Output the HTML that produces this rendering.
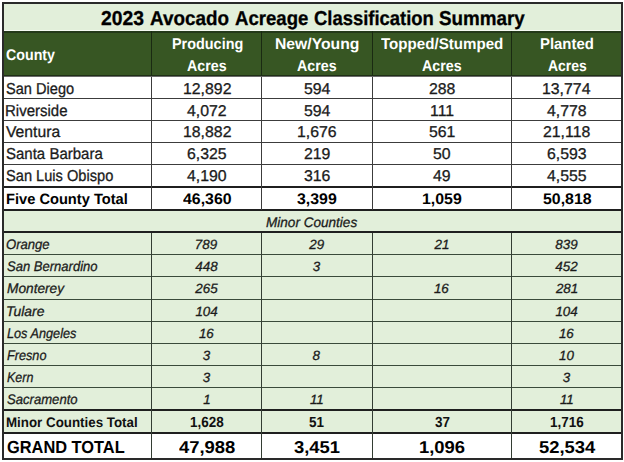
<!DOCTYPE html>
<html><head><meta charset="utf-8"><style>
html,body{margin:0;padding:0;background:#fff;width:624px;height:462px;overflow:hidden}
body{position:relative;font-family:"Liberation Sans",sans-serif}
.r{position:absolute}
.t{position:absolute;line-height:0;white-space:nowrap;transform-origin:0 0;text-rendering:geometricPrecision}
.n{-webkit-text-stroke:0.3px currentColor}
.i{-webkit-text-stroke:0.3px currentColor}
.b{-webkit-text-stroke:0.3px currentColor}
</style></head><body>
<div class="r" style="left:4px;top:4px;width:617px;height:26px;background:#e2efda"></div>
<div class="r" style="left:2px;top:30px;width:620px;height:1px;background:#f6faf3"></div>
<div class="r" style="left:4px;top:31px;width:617px;height:45px;background:#375623"></div>
<div class="r" style="left:4px;top:31px;width:617px;height:2px;background:#24391a"></div>
<div class="r" style="left:4px;top:75px;width:617px;height:1px;background:#1e2f15"></div>
<div class="r" style="left:4px;top:76px;width:617px;height:1px;background:#6a6a6a"></div>
<div class="r" style="left:4px;top:77px;width:617px;height:109px;background:#fff"></div>
<div class="r" style="left:4px;top:188px;width:617px;height:21px;background:#fff"></div>
<div class="r" style="left:4px;top:211px;width:617px;height:198px;background:#e2efda"></div>
<div class="r" style="left:4px;top:411px;width:617px;height:21px;background:#e2efda"></div>
<div class="r" style="left:4px;top:434px;width:617px;height:24px;background:#fff"></div>
<div class="r" style="left:4px;top:98px;width:617px;height:1px;background:#3c3c3c"></div>
<div class="r" style="left:4px;top:120px;width:617px;height:1px;background:#3c3c3c"></div>
<div class="r" style="left:4px;top:142px;width:617px;height:1px;background:#3c3c3c"></div>
<div class="r" style="left:4px;top:164px;width:617px;height:1px;background:#3c3c3c"></div>
<div class="r" style="left:4px;top:186px;width:617px;height:2px;background:#1f1f1f"></div>
<div class="r" style="left:4px;top:209px;width:617px;height:2px;background:#1f1f1f"></div>
<div class="r" style="left:4px;top:231px;width:617px;height:2px;background:#1f1f1f"></div>
<div class="r" style="left:4px;top:409px;width:617px;height:2px;background:#1f1f1f"></div>
<div class="r" style="left:4px;top:432px;width:617px;height:2px;background:#1f1f1f"></div>
<div class="r" style="left:4px;top:254px;width:617px;height:1px;background:#3a4a3a"></div>
<div class="r" style="left:4px;top:276px;width:617px;height:1px;background:#3a4a3a"></div>
<div class="r" style="left:4px;top:299px;width:617px;height:1px;background:#3a4a3a"></div>
<div class="r" style="left:4px;top:321px;width:617px;height:1px;background:#3a4a3a"></div>
<div class="r" style="left:4px;top:343px;width:617px;height:1px;background:#3a4a3a"></div>
<div class="r" style="left:4px;top:365px;width:617px;height:1px;background:#3a4a3a"></div>
<div class="r" style="left:4px;top:387px;width:617px;height:1px;background:#3a4a3a"></div>
<div class="r" style="left:151px;top:31px;width:1px;height:45px;background:#1a2a12"></div>
<div class="r" style="left:151px;top:77px;width:1px;height:133px;background:#3c3c3c"></div>
<div class="r" style="left:151px;top:233px;width:1px;height:225px;background:#333d33"></div>
<div class="r" style="left:261px;top:31px;width:1px;height:45px;background:#1a2a12"></div>
<div class="r" style="left:261px;top:77px;width:1px;height:133px;background:#3c3c3c"></div>
<div class="r" style="left:261px;top:233px;width:1px;height:225px;background:#333d33"></div>
<div class="r" style="left:372px;top:31px;width:1px;height:45px;background:#1a2a12"></div>
<div class="r" style="left:372px;top:77px;width:1px;height:133px;background:#3c3c3c"></div>
<div class="r" style="left:372px;top:233px;width:1px;height:225px;background:#333d33"></div>
<div class="r" style="left:511px;top:31px;width:1px;height:45px;background:#1a2a12"></div>
<div class="r" style="left:511px;top:77px;width:1px;height:133px;background:#3c3c3c"></div>
<div class="r" style="left:511px;top:233px;width:1px;height:225px;background:#333d33"></div>
<div class="r" style="left:2px;top:2px;width:621px;height:2px;background:#2a2a2a"></div>
<div class="r" style="left:2px;top:458px;width:621px;height:2px;background:#2a2a2a"></div>
<div class="r" style="left:2px;top:2px;width:2px;height:458px;background:#2a2a2a"></div>
<div class="r" style="left:621px;top:2px;width:2px;height:458px;background:#2a2a2a"></div>
<div class="t b" style="left:100.67px;top:19.00px;font-size:20.10px;color:#000;font-weight:bold;transform:scaleX(0.9623)">2023</div>
<div class="t b" style="left:149.62px;top:19.00px;font-size:20.10px;color:#000;font-weight:bold;transform:scaleX(0.9384)">Avocado</div>
<div class="t b" style="left:234.63px;top:19.00px;font-size:20.10px;color:#000;font-weight:bold;transform:scaleX(0.9247)">Acreage</div>
<div class="t b" style="left:313.76px;top:19.00px;font-size:20.10px;color:#000;font-weight:bold;transform:scaleX(0.9171)">Classification</div>
<div class="t b" style="left:439.12px;top:19.00px;font-size:20.10px;color:#000;font-weight:bold;transform:scaleX(0.9366)">Summary</div>
<div class="t" style="left:5.93px;top:56.00px;font-size:15.50px;color:#fff;font-weight:bold;transform:scaleX(0.9182)">County</div>
<div class="t" style="left:171.64px;top:45.00px;font-size:15.50px;color:#fff;font-weight:bold;transform:scaleX(0.9296)">Producing</div>
<div class="t" style="left:187.22px;top:67.00px;font-size:15.50px;color:#fff;font-weight:bold;transform:scaleX(0.9179)">Acres</div>
<div class="t" style="left:275.31px;top:45.00px;font-size:15.50px;color:#fff;font-weight:bold;transform:scaleX(1.0140)">New/Young</div>
<div class="t" style="left:297.22px;top:67.00px;font-size:15.50px;color:#fff;font-weight:bold;transform:scaleX(0.9179)">Acres</div>
<div class="t" style="left:381.10px;top:45.00px;font-size:15.50px;color:#fff;font-weight:bold;transform:scaleX(0.9753)">Topped/Stumped</div>
<div class="t" style="left:422.22px;top:67.00px;font-size:15.50px;color:#fff;font-weight:bold;transform:scaleX(0.9179)">Acres</div>
<div class="t" style="left:540.11px;top:45.00px;font-size:15.50px;color:#fff;font-weight:bold;transform:scaleX(0.9610)">Planted</div>
<div class="t" style="left:547.72px;top:67.00px;font-size:15.50px;color:#fff;font-weight:bold;transform:scaleX(0.9001)">Acres</div>
<div class="t n" style="left:5.67px;top:90.00px;font-size:15.80px;color:#1b1b1b;transform:scaleX(0.9231)">San Diego</div>
<div class="t n" style="left:182.57px;top:90.00px;font-size:15.60px;color:#1b1b1b;transform:scaleX(1.0160)">12,892</div>
<div class="t n" style="left:303.67px;top:90.00px;font-size:15.60px;color:#1b1b1b;transform:scaleX(1.0160)">594</div>
<div class="t n" style="left:428.67px;top:90.00px;font-size:15.60px;color:#1b1b1b;transform:scaleX(1.0160)">288</div>
<div class="t n" style="left:542.41px;top:90.00px;font-size:15.60px;color:#1b1b1b;transform:scaleX(1.0160)">13,774</div>
<div class="t n" style="left:5.05px;top:112.00px;font-size:15.80px;color:#1b1b1b;transform:scaleX(0.9489)">Riverside</div>
<div class="t n" style="left:187.38px;top:112.00px;font-size:15.60px;color:#1b1b1b;transform:scaleX(1.0160)">4,072</div>
<div class="t n" style="left:303.67px;top:112.00px;font-size:15.60px;color:#1b1b1b;transform:scaleX(1.0160)">594</div>
<div class="t n" style="left:429.77px;top:112.00px;font-size:15.60px;color:#1b1b1b;transform:scaleX(1.0160)">111</div>
<div class="t n" style="left:547.30px;top:112.00px;font-size:15.60px;color:#1b1b1b;transform:scaleX(1.0160)">4,778</div>
<div class="t n" style="left:6.25px;top:133.00px;font-size:15.80px;color:#1b1b1b;transform:scaleX(0.9949)">Ventura</div>
<div class="t n" style="left:182.57px;top:133.00px;font-size:15.60px;color:#1b1b1b;transform:scaleX(1.0160)">18,882</div>
<div class="t n" style="left:296.90px;top:133.00px;font-size:15.60px;color:#1b1b1b;transform:scaleX(1.0160)">1,676</div>
<div class="t n" style="left:428.83px;top:133.00px;font-size:15.60px;color:#1b1b1b;transform:scaleX(1.0160)">561</div>
<div class="t n" style="left:543.24px;top:133.00px;font-size:15.60px;color:#1b1b1b;transform:scaleX(1.0160)">21,118</div>
<div class="t n" style="left:5.65px;top:155.00px;font-size:15.80px;color:#1b1b1b;transform:scaleX(0.9500)">Santa Barbara</div>
<div class="t n" style="left:187.06px;top:155.00px;font-size:15.60px;color:#1b1b1b;transform:scaleX(1.0160)">6,325</div>
<div class="t n" style="left:303.75px;top:155.00px;font-size:15.60px;color:#1b1b1b;transform:scaleX(1.0160)">219</div>
<div class="t n" style="left:433.15px;top:155.00px;font-size:15.60px;color:#1b1b1b;transform:scaleX(1.0160)">50</div>
<div class="t n" style="left:547.06px;top:155.00px;font-size:15.60px;color:#1b1b1b;transform:scaleX(1.0160)">6,593</div>
<div class="t n" style="left:5.66px;top:177.00px;font-size:15.80px;color:#1b1b1b;transform:scaleX(0.9260)">San Luis Obispo</div>
<div class="t n" style="left:187.30px;top:177.00px;font-size:15.60px;color:#1b1b1b;transform:scaleX(1.0160)">4,190</div>
<div class="t n" style="left:303.83px;top:177.00px;font-size:15.60px;color:#1b1b1b;transform:scaleX(1.0160)">316</div>
<div class="t n" style="left:433.39px;top:177.00px;font-size:15.60px;color:#1b1b1b;transform:scaleX(1.0160)">49</div>
<div class="t n" style="left:547.30px;top:177.00px;font-size:15.60px;color:#1b1b1b;transform:scaleX(1.0160)">4,555</div>
<div class="t" style="left:6.12px;top:200.00px;font-size:14.90px;color:#000;font-weight:bold;transform:scaleX(0.9837)">Five County Total</div>
<div class="t" style="left:182.90px;top:200.00px;font-size:15.30px;color:#000;font-weight:bold;transform:scaleX(1.0390)">46,360</div>
<div class="t" style="left:297.24px;top:200.00px;font-size:15.30px;color:#000;font-weight:bold;transform:scaleX(1.0390)">3,399</div>
<div class="t" style="left:421.92px;top:200.00px;font-size:15.30px;color:#000;font-weight:bold;transform:scaleX(1.0390)">1,059</div>
<div class="t" style="left:542.66px;top:200.00px;font-size:15.30px;color:#000;font-weight:bold;transform:scaleX(1.0390)">50,818</div>
<div class="t i" style="left:266.09px;top:223.00px;font-size:13.80px;color:#1b1b1b;font-style:italic;transform:scaleX(0.9825)">Minor Counties</div>
<div class="t i" style="left:6.35px;top:245.00px;font-size:13.80px;color:#1b1b1b;font-style:italic;transform:scaleX(0.9478)">Orange</div>
<div class="t i" style="left:194.76px;top:245.00px;font-size:13.40px;color:#1b1b1b;font-style:italic">789</div>
<div class="t i" style="left:309.22px;top:245.00px;font-size:13.40px;color:#1b1b1b;font-style:italic">29</div>
<div class="t i" style="left:434.62px;top:245.00px;font-size:13.40px;color:#1b1b1b;font-style:italic">21</div>
<div class="t i" style="left:555.30px;top:245.00px;font-size:13.40px;color:#1b1b1b;font-style:italic">839</div>
<div class="t i" style="left:6.74px;top:267.00px;font-size:13.80px;color:#1b1b1b;font-style:italic;transform:scaleX(0.9448)">San Bernardino</div>
<div class="t i" style="left:195.30px;top:267.00px;font-size:13.40px;color:#1b1b1b;font-style:italic">448</div>
<div class="t i" style="left:312.68px;top:267.00px;font-size:13.40px;color:#1b1b1b;font-style:italic">3</div>
<div class="t i" style="left:555.36px;top:267.00px;font-size:13.40px;color:#1b1b1b;font-style:italic">452</div>
<div class="t i" style="left:6.59px;top:289.00px;font-size:13.80px;color:#1b1b1b;font-style:italic;transform:scaleX(0.9924)">Monterey</div>
<div class="t i" style="left:195.36px;top:289.00px;font-size:13.40px;color:#1b1b1b;font-style:italic">265</div>
<div class="t i" style="left:433.89px;top:289.00px;font-size:13.40px;color:#1b1b1b;font-style:italic">16</div>
<div class="t i" style="left:555.90px;top:289.00px;font-size:13.40px;color:#1b1b1b;font-style:italic">281</div>
<div class="t i" style="left:5.89px;top:312.00px;font-size:13.80px;color:#1b1b1b;font-style:italic;transform:scaleX(1.0072)">Tulare</div>
<div class="t i" style="left:195.43px;top:312.00px;font-size:13.40px;color:#1b1b1b;font-style:italic">104</div>
<div class="t i" style="left:555.43px;top:312.00px;font-size:13.40px;color:#1b1b1b;font-style:italic">104</div>
<div class="t i" style="left:6.62px;top:334.00px;font-size:13.80px;color:#1b1b1b;font-style:italic;transform:scaleX(0.9201)">Los Angeles</div>
<div class="t i" style="left:198.89px;top:334.00px;font-size:13.40px;color:#1b1b1b;font-style:italic">16</div>
<div class="t i" style="left:558.89px;top:334.00px;font-size:13.40px;color:#1b1b1b;font-style:italic">16</div>
<div class="t i" style="left:6.62px;top:356.00px;font-size:13.80px;color:#1b1b1b;font-style:italic;transform:scaleX(0.9188)">Fresno</div>
<div class="t i" style="left:202.68px;top:356.00px;font-size:13.40px;color:#1b1b1b;font-style:italic">3</div>
<div class="t i" style="left:312.61px;top:356.00px;font-size:13.40px;color:#1b1b1b;font-style:italic">8</div>
<div class="t i" style="left:558.95px;top:356.00px;font-size:13.40px;color:#1b1b1b;font-style:italic">10</div>
<div class="t i" style="left:6.63px;top:378.00px;font-size:13.80px;color:#1b1b1b;font-style:italic;transform:scaleX(0.9031)">Kern</div>
<div class="t i" style="left:202.68px;top:378.00px;font-size:13.40px;color:#1b1b1b;font-style:italic">3</div>
<div class="t i" style="left:562.68px;top:378.00px;font-size:13.40px;color:#1b1b1b;font-style:italic">3</div>
<div class="t i" style="left:6.74px;top:400.00px;font-size:13.80px;color:#1b1b1b;font-style:italic;transform:scaleX(0.9489)">Sacramento</div>
<div class="t i" style="left:203.15px;top:400.00px;font-size:13.40px;color:#1b1b1b;font-style:italic">1</div>
<div class="t i" style="left:309.92px;top:400.00px;font-size:13.40px;color:#1b1b1b;font-style:italic">11</div>
<div class="t i" style="left:559.92px;top:400.00px;font-size:13.40px;color:#1b1b1b;font-style:italic">11</div>
<div class="t" style="left:6.20px;top:423.00px;font-size:13.80px;color:#111;font-weight:bold;transform:scaleX(0.9670)">Minor Counties Total</div>
<div class="t" style="left:189.92px;top:423.00px;font-size:14.70px;color:#111;font-weight:bold;transform:scaleX(0.9160)">1,628</div>
<div class="t" style="left:309.49px;top:423.00px;font-size:14.70px;color:#111;font-weight:bold;transform:scaleX(0.9160)">51</div>
<div class="t" style="left:434.62px;top:423.00px;font-size:14.70px;color:#111;font-weight:bold;transform:scaleX(0.9160)">37</div>
<div class="t" style="left:549.99px;top:423.00px;font-size:14.70px;color:#111;font-weight:bold;transform:scaleX(0.9160)">1,716</div>
<div class="t" style="left:6.84px;top:447.00px;font-size:17.40px;color:#000;font-weight:bold;transform:scaleX(0.9419)">GRAND TOTAL</div>
<div class="t" style="left:178.98px;top:447.00px;font-size:17.20px;color:#000;font-weight:bold;transform:scaleX(1.0710)">47,988</div>
<div class="t" style="left:294.01px;top:447.00px;font-size:17.20px;color:#000;font-weight:bold;transform:scaleX(1.0710)">3,451</div>
<div class="t" style="left:418.73px;top:447.00px;font-size:17.20px;color:#000;font-weight:bold;transform:scaleX(1.0710)">1,096</div>
<div class="t" style="left:538.52px;top:447.00px;font-size:17.20px;color:#000;font-weight:bold;transform:scaleX(1.0710)">52,534</div>
</body></html>
